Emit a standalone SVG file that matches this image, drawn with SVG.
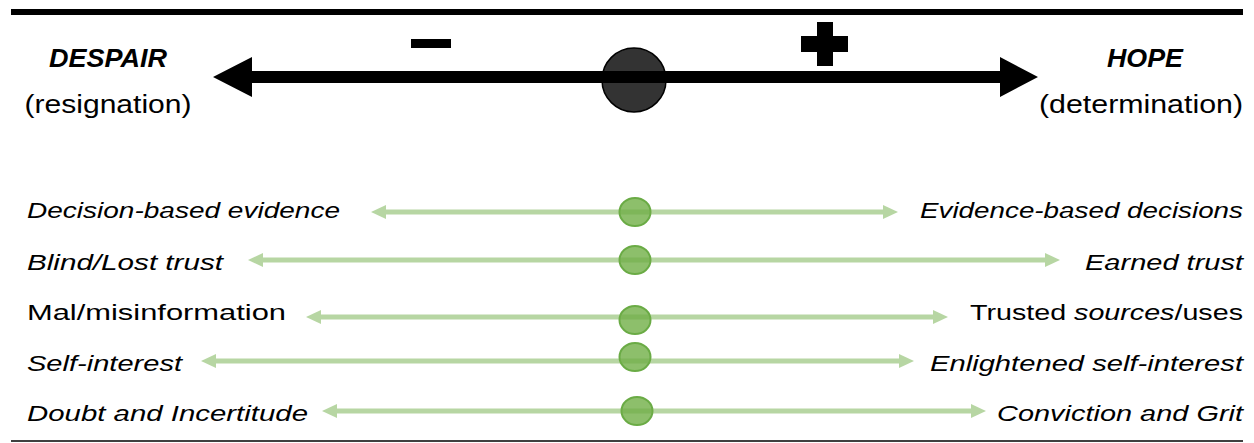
<svg xmlns="http://www.w3.org/2000/svg" width="1254" height="443" viewBox="0 0 1254 443">
<style>
.t{font-family:"Liberation Sans",Arial,sans-serif;fill:#000}
.h{font-size:25px;font-weight:bold;font-style:italic}
.s{font-size:26px}
.r{font-size:22.5px;font-style:italic}
.n{font-style:normal}
.g{stroke:#70ad47;stroke-opacity:0.5;stroke-width:5;fill:none}
.dot{fill:#8dbf6b;stroke:#6aab45;stroke-width:2}
</style>
<defs>
<marker id="ah" markerUnits="userSpaceOnUse" markerWidth="15" markerHeight="14" refX="0" refY="7" orient="auto-start-reverse">
<path d="M0,0 L15,7 L0,14 Z" fill="#70ad47" fill-opacity="0.5"/>
</marker>
</defs>
<rect x="11" y="9" width="1232" height="6" fill="#000"/>
<line x1="11" y1="441" x2="1243" y2="441" stroke="#000" stroke-width="1.5"/>
<g id="despair"><text class="t h" x="108" y="67" text-anchor="middle" textLength="118" lengthAdjust="spacingAndGlyphs">DESPAIR</text><text class="t s" x="108" y="113" text-anchor="middle" textLength="167" lengthAdjust="spacingAndGlyphs">(resignation)</text></g>
<g id="hope"><text class="t h" x="1145" y="67" text-anchor="middle" textLength="76" lengthAdjust="spacingAndGlyphs">HOPE</text><text class="t s" x="1141" y="113" text-anchor="middle" textLength="204" lengthAdjust="spacingAndGlyphs">(determination)</text></g>
<g id="minus"><rect x="411" y="39" width="40" height="9" fill="#000"/></g>
<g id="plus"><rect x="801" y="36" width="47" height="16" fill="#000"/><rect x="817" y="22" width="16" height="44" fill="#000"/></g>
<g id="center"><circle cx="634" cy="80" r="32" fill="#333" stroke="#000" stroke-width="1.5"/></g>
<g id="dots">
<ellipse class="dot" cx="635" cy="212" rx="15.5" ry="14"/>
<ellipse class="dot" cx="635" cy="260" rx="15.5" ry="14"/>
<ellipse class="dot" cx="635" cy="320" rx="15.5" ry="14"/>
<ellipse class="dot" cx="635" cy="357" rx="15.5" ry="14"/>
<ellipse class="dot" cx="637" cy="411" rx="15.5" ry="14"/>
</g>
<g id="connectors">
<path d="M213,77 L252,57 L252,71 L1000,71 L1000,57 L1038,77 L1000,97 L1000,83 L252,83 L252,97 Z" fill="#000"/>
<line class="g" x1="386" y1="212" x2="883" y2="212" marker-start="url(#ah)" marker-end="url(#ah)"/>
<line class="g" x1="263" y1="260" x2="1045" y2="260" marker-start="url(#ah)" marker-end="url(#ah)"/>
<line class="g" x1="321" y1="317" x2="933" y2="317" marker-start="url(#ah)" marker-end="url(#ah)"/>
<line class="g" x1="216" y1="361" x2="899" y2="361" marker-start="url(#ah)" marker-end="url(#ah)"/>
<line class="g" x1="337" y1="411" x2="971" y2="411" marker-start="url(#ah)" marker-end="url(#ah)"/>
</g>
<g id="row1"><text class="t r" x="27" y="218" textLength="313" lengthAdjust="spacingAndGlyphs">Decision-based evidence</text><text class="t r" x="1243" y="218" text-anchor="end" textLength="323" lengthAdjust="spacingAndGlyphs">Evidence-based decisions</text></g>
<g id="row2"><text class="t r" x="27" y="270" textLength="196" lengthAdjust="spacingAndGlyphs">Blind/Lost trust</text><text class="t r" x="1243" y="270" text-anchor="end" textLength="158" lengthAdjust="spacingAndGlyphs">Earned trust</text></g>
<g id="row3"><text class="t r n" x="27" y="320" textLength="259" lengthAdjust="spacingAndGlyphs">Mal/misinformation</text><text class="t r n" x="1243" y="320" text-anchor="end" textLength="273" lengthAdjust="spacingAndGlyphs">Trusted <tspan font-style="italic">sources</tspan>/uses</text></g>
<g id="row4"><text class="t r" x="27" y="371" textLength="155" lengthAdjust="spacingAndGlyphs">Self-interest</text><text class="t r" x="1243" y="371" text-anchor="end" textLength="313" lengthAdjust="spacingAndGlyphs">Enlightened self-interest</text></g>
<g id="row5"><text class="t r" x="27" y="421" textLength="281" lengthAdjust="spacingAndGlyphs">Doubt and Incertitude</text><text class="t r" x="1243" y="421" text-anchor="end" textLength="246" lengthAdjust="spacingAndGlyphs">Conviction and Grit</text></g>
</svg>
